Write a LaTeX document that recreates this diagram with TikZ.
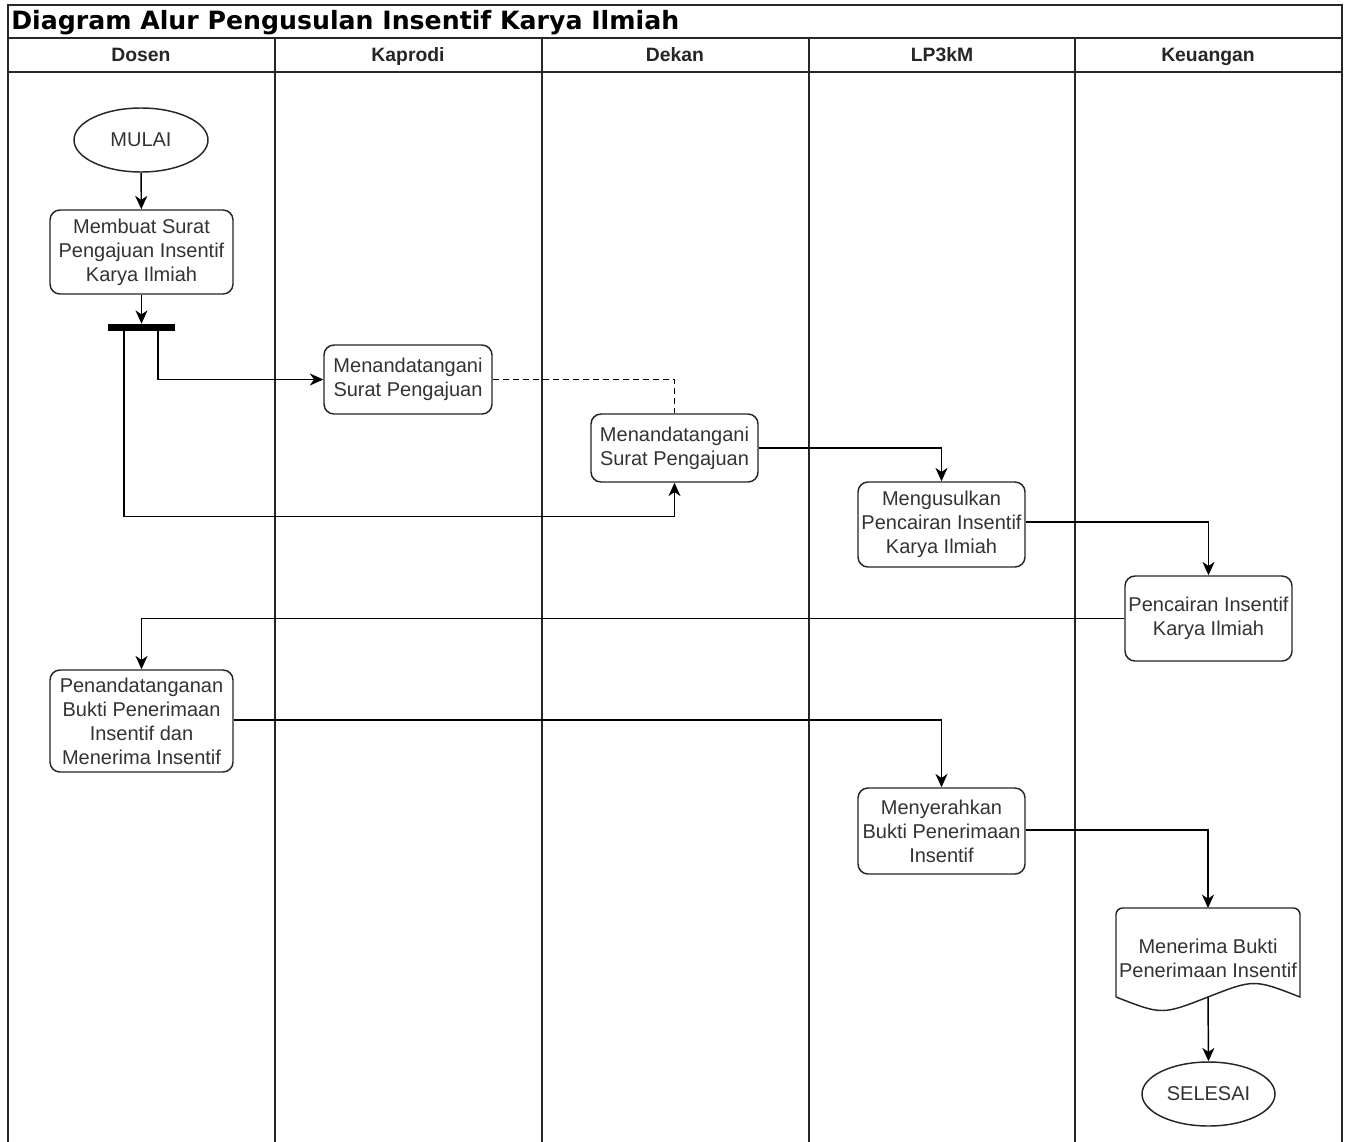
\documentclass[tikz,border=0pt]{standalone}
\usepackage{fontspec}
\setmainfont{Liberation Sans}
\newfontfamily\titlefont{DejaVu Sans}
\usetikzlibrary{arrows.meta,calc,shapes.geometric}
\definecolor{txt}{HTML}{333333}
\begin{document}
\begin{tikzpicture}[x=0.75pt,y=-0.75pt,
  lane/.style={line width=1.5pt,draw=black!85},
  box/.style={draw=black!85,line width=1.1pt,rounded corners=7.5pt,align=center,inner sep=0pt,
     text=txt,font=\fontsize{15}{18}\selectfont},
  oval/.style={draw=black!85,line width=1.1pt,ellipse,inner sep=0pt,minimum width=100.5pt,minimum height=48pt,
     text=txt,font=\fontsize{15}{18}\selectfont},
  arr/.style={draw=black,line width=1.1pt,-{Stealth[length=10pt,width=9pt,inset=3pt]}},
  hdr/.style={anchor=base,inner sep=0pt,font=\fontsize{14.5}{16}\selectfont\bfseries,text=black!85}
]
\clip (0,0) rectangle (1350,1142);
\fill[white] (0,0) rectangle (1350,1142);
% frame
\draw[lane] (8,1160) -- (8,5) -- (1342,5) -- (1342,1160);
\draw[lane] (8,38) -- (1342,38);
\draw[lane] (8,72) -- (1342,72);
\foreach \x in {275,542,809,1075} \draw[lane] (\x,38) -- (\x,1160);
\node[anchor=base west,inner sep=0pt,font=\titlefont\bfseries\fontsize{18.9}{21}\selectfont] (title) at (11,30) {Diagram Alur Pengusulan Insentif Karya Ilmiah};
\node[hdr] (h1) at (141,61) {Dosen};
\node[hdr] (h2) at (408,61) {Kaprodi};
\node[hdr] (h3) at (675,61) {Dekan};
\node[hdr] (h4) at (942,61) {LP3kM};
\node[hdr] (h5) at (1208,61) {Keuangan};
% nodes
\node[oval] (mulai) at (141,140) {MULAI};
\node[box,minimum width=137.25pt,minimum height=63pt] (buat) at (141.5,252) {Membuat Surat\\Pengajuan Insentif\\Karya Ilmiah};
\node[fill=black,inner sep=0pt,minimum width=50.25pt,minimum height=5.25pt] (bar) at (141.5,327.5) {};
\node[box,minimum width=126pt,minimum height=51.75pt] (kap) at (408,379.5) {Menandatangani\\Surat Pengajuan};
\node[box,minimum width=125.25pt,minimum height=51pt] (dek) at (674.5,448) {Menandatangani\\Surat Pengajuan};
\node[box,minimum width=125.25pt,minimum height=63.75pt] (usul) at (941.5,524.5) {Mengusulkan\\Pencairan Insentif\\Karya Ilmiah};
\node[box,minimum width=125.25pt,minimum height=63.75pt] (cair) at (1208.5,618.5) {Pencairan Insentif\\Karya Ilmiah};
\node[box,minimum width=137.25pt,minimum height=76.5pt] (tanda) at (141.5,721) {Penandatanganan\\Bukti Penerimaan\\Insentif dan\\Menerima Insentif};
\node[box,minimum width=125.25pt,minimum height=64.5pt] (serah) at (941.5,831) {Menyerahkan\\Bukti Penerimaan\\Insentif};
% document shape
\coordinate (doctop) at (1208,908);
\coordinate (docbot) at (1208,997);
\draw[draw=black!85,line width=1.1pt,fill=white] (1116,997) -- (1116,915) [rounded corners=5pt] -- (1116,908) -- (1300,908) [sharp corners] -- (1300,915) -- (1300,997)
   .. controls (1254,979) .. (1208,997) .. controls (1162,1015) .. (1116,997);
\node[align=center,text=txt,font=\fontsize{15}{18}\selectfont,inner sep=0pt] (doc) at (1208,958) {Menerima Bukti\\Penerimaan Insentif};
\node[oval,minimum width=99.75pt] (selesai) at (1208.5,1094) {SELESAI};
% connectors
\draw[arr] (mulai) -- (buat);
\draw[arr] (buat) -- (bar);
\coordinate (b1) at ($(bar.south)+(16.5,0)$);
\coordinate (b2) at ($(bar.south)+(-17.5,0)$);
\coordinate (b2c) at ($(dek.south)+(0,34)$);
\draw[arr] (b1) |- (kap.west);
\draw[arr] (b2) |- (b2c) -- (dek.south);
\draw[line width=1.1pt,dashed,dash pattern=on 4.5pt off 3pt] (kap.east) -| (dek.north);
\draw[arr] (dek.east) -| (usul.north);
\draw[arr] ($(usul.east)+(0,-2.5)$) -| (cair.north);
\draw[arr] (cair.west) -| (tanda.north);
\draw[arr] ($(tanda.east)+(0,-1)$) -| (serah.north);
\draw[arr] ($(serah.east)+(0,-1)$) -| (doctop);
\draw[arr] (docbot) -- (selesai.north);
\end{tikzpicture}
\end{document}
